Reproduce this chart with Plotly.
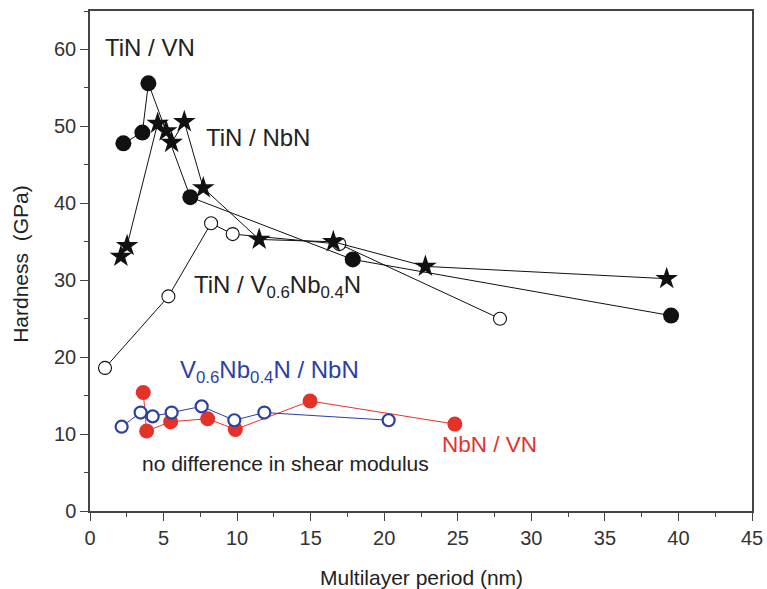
import plotly.graph_objects as go

# TiN / VN (filled black circles)
tin_vn_x = [2.27, 3.56, 3.97, 6.82, 17.86, 39.5]
tin_vn_y = [47.8, 49.2, 55.6, 40.8, 32.7, 25.4]

# TiN / NbN (black stars)
tin_nbn_x = [2.10, 2.52, 4.60, 5.17, 5.55, 6.41, 7.70, 11.5, 16.54, 22.8, 39.2]
tin_nbn_y = [33.1, 34.5, 50.4, 49.4, 47.9, 50.6, 42.0, 35.3, 35.0, 31.8, 30.2]

# TiN / V0.6Nb0.4N (open black circles)
tin_vnb_x = [1.02, 5.33, 8.23, 9.70, 16.95, 27.87]
tin_vnb_y = [18.6, 27.9, 37.4, 36.0, 34.7, 25.0]

# V0.6Nb0.4N / NbN (open blue circles)
vnb_nbn_x = [2.15, 3.44, 4.26, 5.55, 7.59, 9.81, 11.85, 20.3]
vnb_nbn_y = [10.96, 12.8, 12.3, 12.8, 13.6, 11.8, 12.8, 11.8]

# NbN / VN (filled red circles)
nbn_vn_x = [3.62, 3.85, 5.48, 8.0, 9.88, 14.96, 24.8]
nbn_vn_y = [15.4, 10.4, 11.6, 12.0, 10.6, 14.3, 11.3]

x_ticks = [0, 5, 10, 15, 20, 25, 30, 35, 40, 45]
y_ticks = [0, 10, 20, 30, 40, 50, 60]

RED = "#e4322b"
BLUE = "#2b3fa6"
BLACK = "#111111"
FONT = "Liberation Sans, Arial, sans-serif"

fig = go.Figure()

fig.add_trace(go.Scatter(
    x=nbn_vn_x, y=nbn_vn_y, mode="lines+markers",
    line=dict(color=RED, width=1),
    marker=dict(symbol="circle", size=15, color=RED, line=dict(width=0)),
    showlegend=False))

fig.add_trace(go.Scatter(
    x=vnb_nbn_x, y=vnb_nbn_y, mode="lines+markers",
    line=dict(color=BLUE, width=1),
    marker=dict(symbol="circle", size=12, color="white", line=dict(color=BLUE, width=2.2)),
    showlegend=False))

fig.add_trace(go.Scatter(
    x=tin_vnb_x, y=tin_vnb_y, mode="lines+markers",
    line=dict(color=BLACK, width=1),
    marker=dict(symbol="circle", size=13, color="white", line=dict(color=BLACK, width=1.1)),
    showlegend=False))

fig.add_trace(go.Scatter(
    x=tin_vn_x, y=tin_vn_y, mode="lines+markers",
    line=dict(color=BLACK, width=1),
    marker=dict(symbol="circle", size=16, color=BLACK, line=dict(width=0)),
    showlegend=False))

fig.add_trace(go.Scatter(
    x=tin_nbn_x, y=tin_nbn_y, mode="lines+markers",
    line=dict(color=BLACK, width=1),
    marker=dict(symbol="star", size=17, color=BLACK, line=dict(width=0)),
    showlegend=False))

annotations = [
    dict(x=0.9, y=60.3, text="TiN / VN", color="#222222", size=24),
    dict(x=7.75, y=48.5, text="TiN / NbN", color="#222222", size=24),
    dict(x=6.93, y=29.2, text="TiN / V<sub>0.6</sub>Nb<sub>0.4</sub>N", color="#222222", size=24),
    dict(x=6.0, y=18.2, text="V<sub>0.6</sub>Nb<sub>0.4</sub>N / NbN", color=BLUE, size=24),
    dict(x=23.8, y=8.7, text="NbN / VN", color=RED, size=22.5),
    dict(x=3.4, y=6.2, text="no difference in shear modulus", color="#222222", size=21),
]
for a in annotations:
    fig.add_annotation(x=a["x"], y=a["y"], xref="x", yref="y", text=a["text"],
                       showarrow=False, xanchor="left", yanchor="middle",
                       font=dict(family=FONT, size=a["size"], color=a["color"]))

# axis titles placed as paper annotations (plot area spans 90..752 x 11..511 px)
fig.add_annotation(x=0.5, y=-0.132, xref="paper", yref="paper", text="Multilayer period (nm)",
                   showarrow=False, xanchor="center", yanchor="middle",
                   font=dict(family=FONT, size=21, color="#222222"))
fig.add_annotation(x=-0.106, y=0.494, xref="paper", yref="paper", text="Hardness\u00a0\u00a0(GPa)",
                   showarrow=False, xanchor="center", yanchor="middle", textangle=-90,
                   font=dict(family=FONT, size=21, color="#222222"))

axis_common = dict(
    showgrid=False, zeroline=False, showline=True, linecolor="#444444", linewidth=1.5,
    mirror=True, ticks="outside", ticklen=8, tickwidth=1.2, tickcolor="#444444",
    tickfont=dict(family=FONT, size=20, color="#333333"), automargin=False,
)

fig.update_xaxes(range=[0, 45], tickvals=x_ticks, ticktext=[str(v) for v in x_ticks],
                 minor=dict(dtick=2.5, ticks="outside", ticklen=4, tickcolor="#444444", tickwidth=1.2),
                 **axis_common)
fig.update_yaxes(range=[0, 65], tickvals=y_ticks, ticktext=[str(v) for v in y_ticks],
                 minor=dict(dtick=5, ticks="outside", ticklen=4, tickcolor="#444444", tickwidth=1.2),
                 **axis_common)

fig.update_layout(
    width=767, height=589,
    margin=dict(l=90, r=15, t=11, b=78),
    paper_bgcolor="white", plot_bgcolor="white",
    font=dict(family=FONT),
)

fig.write_html("out.html")
